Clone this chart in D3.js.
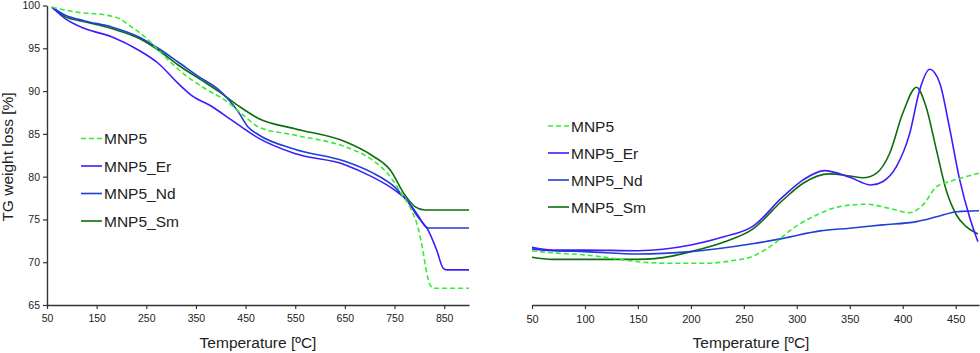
<!DOCTYPE html>
<html><head><meta charset="utf-8">
<script src="https://cdn.jsdelivr.net/npm/d3@7"></script>
<style>
html,body{margin:0;padding:0;background:#fff;}
svg{display:block;font-family:"Liberation Sans",Arial,sans-serif;}
</style></head>
<body><svg id="c" width="980" height="353"></svg>
<script>
// ---------- DATA ----------
const seriesNames = ["MNP5", "MNP5_Er", "MNP5_Nd", "MNP5_Sm"];
const leftXTicks = [50,150,250,350,450,550,650,750,850];
const leftYTicks = [65,70,75,80,85,90,95,100];
const rightXTicks = [50,100,150,200,250,300,350,400,450];

// Left panel: TG weight loss [%] vs temperature
const tgMNP5_T = [60,113,167,194,220,247,274,301,328,368,408,449,476,549,650,704,737,764,784,797,807,813,822,829,900];
const tgMNP5_V = [99.8,99.2,98.9,98.5,97.5,96.35,94.8,93.25,91.9,90.3,88.96,87.0,85.8,84.85,83.5,82.0,80.3,78.0,76.1,74.1,71.4,69.3,67.3,66.95,66.95];
const tgEr_T = [60,86,126,180,234,274,314,341,382,422,476,549,650,704,751,774,797,817,835,848,855,900];
const tgEr_V = [99.8,98.5,97.3,96.35,94.8,93.25,90.9,89.5,88.2,86.6,84.5,82.7,81.4,80.0,78.4,77.3,75.3,73.8,71.4,69.3,69.1,69.1];
const tgNd_T = [60,86,126,180,234,274,314,358,395,435,455,476,549,650,704,751,774,797,812,820,900];
const tgNd_V = [99.8,98.9,98.2,97.5,96.35,95.0,93.4,91.6,90.2,87.6,85.8,84.9,83.2,81.8,80.5,78.75,77.3,75.5,74.2,74.0,74.0];
const tgSm_T = [60,86,126,180,234,274,314,358,395,435,476,549,650,704,741,771,791,811,900];
const tgSm_V = [99.8,98.7,98.1,97.3,96.2,94.8,93.05,91.4,90.0,88.3,86.8,85.6,84.1,82.5,80.8,77.85,76.5,76.1,76.1];

// Right panel: derivative signal (arbitrary units, no y axis)
const dtgMNP5_T = [50,69,100,125,150,182,213,238,258,274.5,296.5,318.6,340.6,365.7,387.7,406.6,419,431.8,444,460,472];
const dtgMNP5_V = [18.1,17.4,16.7,15.6,14.4,13.9,13.9,14.7,16.2,19.4,25.6,30,32.8,33.6,32.2,30.8,33.3,39.4,41.1,42.8,43.9];
const dtgEr_T = [50,69,100,150,200,232,258,287,306,326,350,370,381,394,406.6,416,425.5,435,444,453.8,463,471];
const dtgEr_V = [19.2,18.3,18.3,18.1,20,22.8,26.1,36.1,41.7,44.8,42.6,40,41.1,46.1,57.2,71.7,78.6,73.9,59.4,41.7,29.4,21.1];
const dtgNd_T = [50,69,100,150,200,258,287,322,350,381,413,432,451,472];
const dtgNd_V = [18.7,18.1,17.8,17.0,17.8,20.4,22.2,24.7,25.6,26.7,27.8,29.4,31.1,31.4];
const dtgSm_T = [50,69,100,150,182,200,232,258,287,306,331,350,362.6,375,387.7,400,413,422,431.8,441,450.7,460,471];
const dtgSm_V = [15.9,15.2,15.2,15.2,16.3,17.8,21.1,25.2,35,40.6,43.7,43,42.4,43.9,50.6,63.9,72.6,66.1,51.7,38.3,30,26.1,23.7];

// ---------- STYLE ----------
const colors = {"MNP5":"#35ec35","MNP5_Er":"#3c1cff","MNP5_Nd":"#1d3fd8","MNP5_Sm":"#0c6e0c"};
const dashes = {"MNP5":"5,3","MNP5_Er":null,"MNP5_Nd":null,"MNP5_Sm":null};

const svg = d3.select("#c");
const zip = (T,V) => T.map((t,i)=>[t,V[i]]);

// ---------- LEFT PANEL ----------
const xL = d3.scaleLinear().domain([50,900]).range([47,469]);
const yL = d3.scaleLinear().domain([65,100]).range([305,5.5]);

const leftData = {
  "MNP5": zip(tgMNP5_T,tgMNP5_V),
  "MNP5_Er": zip(tgEr_T,tgEr_V),
  "MNP5_Nd": zip(tgNd_T,tgNd_V),
  "MNP5_Sm": zip(tgSm_T,tgSm_V)
};
const rightData = {
  "MNP5": zip(dtgMNP5_T,dtgMNP5_V),
  "MNP5_Er": zip(dtgEr_T,dtgEr_V),
  "MNP5_Nd": zip(dtgNd_T,dtgNd_V),
  "MNP5_Sm": zip(dtgSm_T,dtgSm_V)
};

function styleAxis(g, fs){
  g.select(".domain").attr("stroke","#333").attr("stroke-width",1.4);
  g.selectAll(".tick line").attr("stroke","#333").attr("stroke-width",1.2);
  g.selectAll(".tick text").attr("fill","#222").style("font-size",fs+"px")
   .style("font-family","'Liberation Sans',Arial,sans-serif");
}

const gxL = svg.append("g").attr("transform","translate(0,305)")
  .call(d3.axisBottom(xL).tickValues(leftXTicks).tickSize(4).tickSizeOuter(0).tickPadding(6).tickFormat(d3.format("d")));
styleAxis(gxL,10.5);
const gyL = svg.append("g").attr("transform","translate(47,0)")
  .call(d3.axisLeft(yL).tickValues(leftYTicks).tickSize(4).tickSizeOuter(0).tickPadding(3).tickFormat(d3.format("d")));
styleAxis(gyL,10.5);

const lineL = d3.line().x(d=>xL(d[0])).y(d=>yL(d[1])).curve(d3.curveMonotoneX);
const drawOrder = ["MNP5_Sm","MNP5_Nd","MNP5_Er","MNP5"];
drawOrder.forEach(n=>{
  svg.append("path").datum(leftData[n]).attr("d",lineL)
    .attr("fill","none").attr("stroke",colors[n]).attr("stroke-width",1.6)
    .attr("stroke-dasharray",dashes[n]);
});

svg.append("text").attr("x",258).attr("y",348).attr("text-anchor","middle")
  .style("font-size","15.5px").attr("fill","#222").text("Temperature [ºC]");
svg.append("text").attr("transform","translate(13,157) rotate(-90)").attr("text-anchor","middle")
  .style("font-size","15.5px").attr("fill","#222").text("TG weight loss [%]");

// ---------- RIGHT PANEL ----------
const xR = d3.scaleLinear().domain([50,472]).range([532,979]);
const yR = d3.scaleLinear().domain([0,100]).range([305,5]);

const gxR = svg.append("g").attr("transform","translate(0,305)")
  .call(d3.axisBottom(xR).tickValues(rightXTicks).tickSize(4).tickSizeOuter(0).tickPadding(6).tickFormat(d3.format("d")));
styleAxis(gxR,11);

const lineR = d3.line().x(d=>xR(d[0])).y(d=>yR(d[1])).curve(d3.curveMonotoneX);
drawOrder.forEach(n=>{
  svg.append("path").datum(rightData[n]).attr("d",lineR)
    .attr("fill","none").attr("stroke",colors[n]).attr("stroke-width",1.6)
    .attr("stroke-dasharray",dashes[n]);
});

svg.append("text").attr("x",751).attr("y",348).attr("text-anchor","middle")
  .style("font-size","15.5px").attr("fill","#222").text("Temperature [ºC]");

// ---------- LEGENDS ----------
function legend(x0, y0, step){
  const g = svg.append("g");
  seriesNames.forEach((n,i)=>{
    const y = y0 + i*step;
    g.append("line").attr("x1",x0).attr("x2",x0+21).attr("y1",y).attr("y2",y)
      .attr("stroke",colors[n]).attr("stroke-width",1.6).attr("stroke-dasharray",dashes[n]);
    g.append("text").attr("x",x0+23).attr("y",y).attr("dy","0.36em")
      .style("font-size","15.5px").attr("fill","#222").text(n);
  });
}
legend(81,138.5,27.5);
legend(548,126,27);
</script></body></html>
